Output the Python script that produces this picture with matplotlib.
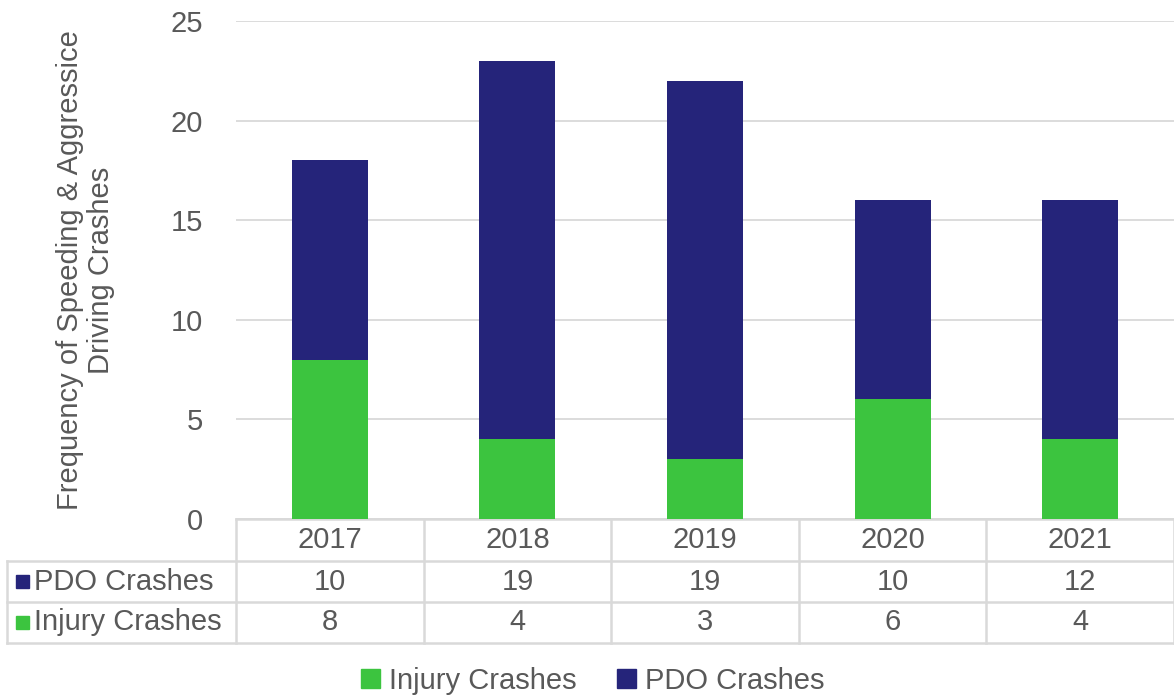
import matplotlib.pyplot as plt
from matplotlib.lines import Line2D
from matplotlib.patches import Patch, Rectangle
import numpy as np

plt.rcParams['font.family'] = ['Liberation Sans', 'DejaVu Sans']

years = ['2017', '2018', '2019', '2020', '2021']
injury = [8, 4, 3, 6, 4]
pdo = [10, 19, 19, 10, 12]

green = '#3CC43F'
navy = '#25247A'
txt = '#595959'
grid = '#D9D9D9'
fs = 21

fig = plt.figure(figsize=(11.74, 6.98), dpi=100)
W, H = 1174, 698
ax = fig.add_axes([236 / W, 1 - 519 / H, (1174 - 236) / W, (519 - 21) / H])

x = np.arange(len(years))
ax.bar(x, injury, width=0.405, color=green, zorder=3)
ax.bar(x, pdo, width=0.405, bottom=injury, color=navy, zorder=3)

ax.set_xlim(-0.5, 4.5)
ax.set_ylim(0, 25)
ax.set_yticks([0, 5, 10, 15, 20, 25])
ax.tick_params(axis='y', length=0, labelsize=fs, colors=txt, pad=24)
ax.set_xticks([])
ax.grid(axis='y', color=grid, linewidth=1.3, zorder=0)
for s in ax.spines.values():
    s.set_visible(False)

ax.set_ylabel('Frequency of Speeding & Aggressice\nDriving Crashes', fontsize=fs,
              color=txt, labelpad=40, linespacing=1.1)

# data table below the axis
axh = 519 - 21
rows_px = [0, 42, 83, 124]
ry = [-r / axh for r in rows_px]
left = (7 - 236) / (1174 - 236)
lk = dict(transform=ax.transAxes, color=grid, linewidth=1.8, clip_on=False)
ax.add_line(Line2D([0, 1], [ry[0], ry[0]], **lk))
for yy in ry[1:]:
    ax.add_line(Line2D([left, 1], [yy, yy], **lk))
ax.add_line(Line2D([left, left], [ry[1], ry[3]], **lk))
for i in range(6):
    ax.add_line(Line2D([i / 5, i / 5], [ry[0], ry[3]], **lk))

for i, yr in enumerate(years):
    xc = (i + 0.5) / 5
    ax.text(xc, (ry[0] + ry[1]) / 2, yr, transform=ax.transAxes, ha='center',
            va='center', fontsize=fs, color=txt)
    ax.text(xc, (ry[1] + ry[2]) / 2, str(pdo[i]), transform=ax.transAxes, ha='center',
            va='center', fontsize=fs, color=txt)
    ax.text(xc, (ry[2] + ry[3]) / 2, str(injury[i]), transform=ax.transAxes, ha='center',
            va='center', fontsize=fs, color=txt)

for yy0, yy1, lab, col in [(ry[1], ry[2], 'PDO Crashes', navy), (ry[2], ry[3], 'Injury Crashes', green)]:
    ym = (yy0 + yy1) / 2
    sq = 13 / (1174 - 236)
    sqh = 13 / axh
    ax.add_patch(Rectangle((left + 9 / 938, ym - sqh / 2), sq, sqh, transform=ax.transAxes,
                           color=col, clip_on=False))
    ax.text(left + 27 / 938, ym, lab, transform=ax.transAxes, ha='left', va='center',
            fontsize=fs, color=txt)

handles = [Patch(color=green, label='Injury Crashes'), Patch(color=navy, label='PDO Crashes')]
fig.legend(handles=handles, loc='center', bbox_to_anchor=(593 / W, 1 - 681 / H), ncol=2,
           frameon=False, fontsize=fs, labelcolor=txt, handlelength=0.65, handleheight=0.65,
           handletextpad=0.3, columnspacing=1.4)

fig.savefig('out.png', dpi=100)
